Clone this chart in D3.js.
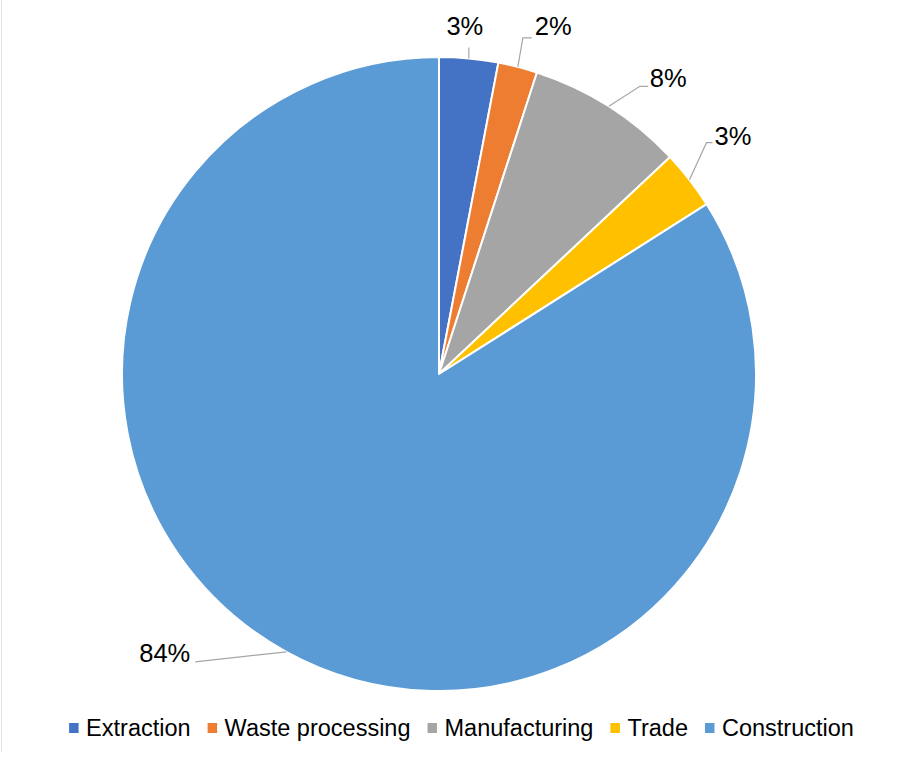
<!DOCTYPE html>
<html>
<head>
<meta charset="utf-8">
<script src="https://cdn.jsdelivr.net/npm/d3@7"></script>
<style>
  body { margin: 0; background: #fff; }
  text { font-family: "Liberation Sans", Arial, sans-serif; fill: #000; }
</style>
</head>
<body>
<div id="chart"></div>
<script>
// chart data
var categories = ["Extraction", "Waste processing", "Manufacturing", "Trade", "Construction"]
var shares = [3, 2, 8, 3, 84]
var colors = ["#4472C4", "#ED7D31", "#A5A5A5", "#FFC000", "#5B9BD5"]

// label placement, offsets from the point where the slice's middle meets the rim
// elbow: bend of leader line, end: end of leader line, txt: text anchor point
var labelLayout = [
    { elbow: [0, -11], end: [0, -11], txt: [-4, -23], anchor: "middle" },
    { elbow: [5, -29], end: [14, -29], txt: [17, -32], anchor: "start" },
    { elbow: [31, -20], end: [39, -20], txt: [41, -19], anchor: "start" },
    { elbow: [17, -37], end: [23, -37], txt: [25, -35], anchor: "start" },
    { elbow: [0, 0], end: [-91, 10], txt: [-96, 10], anchor: "end" }
]

var width = 907, height = 757
var cx = 439, cy = 374, radius = 317

var svg = d3.select("#chart")
    .append("svg")
    .attr("width", width)
    .attr("height", height)

// faint frame line on the left
svg.append("line")
    .attr("x1", 1.5).attr("x2", 1.5)
    .attr("y1", 0).attr("y2", 752)
    .attr("stroke", "#e3e3e3")
    .attr("stroke-width", 1)

var pie = d3.pie().sort(null).value(function (d) { return d; })
var arcs = pie(shares)

var arc = d3.arc().innerRadius(0).outerRadius(radius)

var g = svg.append("g")
    .attr("transform", "translate(" + cx + "," + cy + ")")

g.selectAll("path.slice")
    .data(arcs)
    .enter()
    .append("path")
    .attr("class", "slice")
    .attr("d", arc)
    .attr("fill", function (d, i) { return colors[i] })
    .attr("stroke", "#fff")
    .attr("stroke-width", 2)
    .attr("stroke-linejoin", "round")

// point on the rim at the middle of each slice
function rimPoint(d) {
    var a = (d.startAngle + d.endAngle) / 2
    return [radius * Math.sin(a), -radius * Math.cos(a)]
}

var labels = g.selectAll("g.lbl")
    .data(arcs)
    .enter()
    .append("g")
    .attr("class", "lbl")

labels.append("polyline")
    .attr("points", function (d, i) {
        var p = rimPoint(d), L = labelLayout[i]
        return [p,
            [p[0] + L.elbow[0], p[1] + L.elbow[1]],
            [p[0] + L.end[0], p[1] + L.end[1]]].map(function (q) { return q.join(",") }).join(" ")
    })
    .attr("fill", "none")
    .attr("stroke", "#A6A6A6")
    .attr("stroke-width", 1.2)

labels.append("text")
    .attr("x", function (d, i) { return rimPoint(d)[0] + labelLayout[i].txt[0] })
    .attr("y", function (d, i) { return rimPoint(d)[1] + labelLayout[i].txt[1] })
    .attr("text-anchor", function (d, i) { return labelLayout[i].anchor })
    .style("font-size", "25.5px")
    .text(function (d) { return Math.round(d.data) + "%" })

// legend
var legend = svg.append("g")
var items = legend.selectAll("g")
    .data(categories)
    .enter()
    .append("g")

items.append("rect")
    .attr("width", 9.5)
    .attr("height", 10)
    .attr("y", -13)
    .attr("fill", function (d, i) { return colors[i] })

items.append("text")
    .attr("x", 17)
    .attr("y", 0)
    .style("font-size", "23.5px")
    .text(function (d) { return d })

var gap = 17
var xpos = 0
items.each(function () {
    var w = this.getBBox().width
    d3.select(this).attr("data-x", xpos)
    xpos += w + gap
})
var total = xpos - gap
var startX = 461.5 - total / 2
items.attr("transform", function () {
    return "translate(" + (startX + (+d3.select(this).attr("data-x"))) + ",736)"
})
</script>
</body>
</html>
